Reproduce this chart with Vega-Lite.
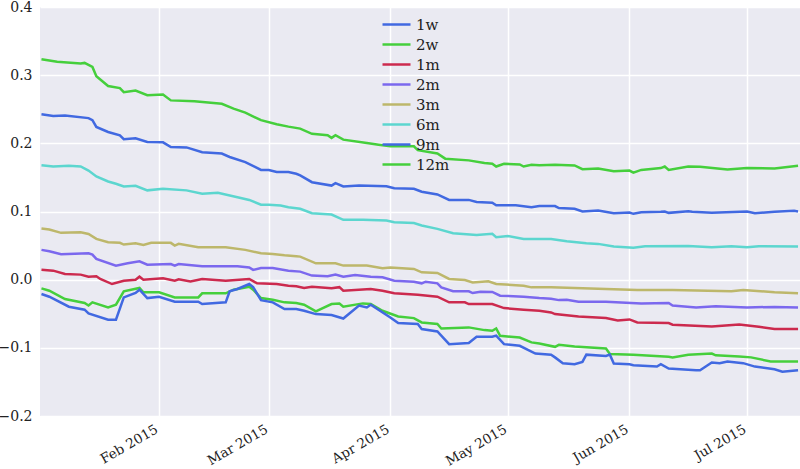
{
  "$schema": "https://vega.github.io/schema/vega-lite/v6.json",
  "width": 760,
  "height": 409,
  "autosize": "none",
  "padding": {"left": 40, "top": 7, "right": 0, "bottom": 53},
  "background": "white",
  "config": {
    "view": {"fill": "#EAEAF2", "stroke": null},
    "font": "DejaVu Serif"
  },
  "data": {"values": [
    {"t":"2015-01-02","s":"12m","v":0.3235},{"t":"2015-01-06","s":"12m","v":0.3196},{"t":"2015-01-12","s":"12m","v":0.317},{"t":"2015-01-13","s":"12m","v":0.318},{"t":"2015-01-15","s":"12m","v":0.312},{"t":"2015-01-16","s":"12m","v":0.2985},{"t":"2015-01-19","s":"12m","v":0.284},{"t":"2015-01-22","s":"12m","v":0.281},{"t":"2015-01-23","s":"12m","v":0.275},{"t":"2015-01-26","s":"12m","v":0.2775},{"t":"2015-01-29","s":"12m","v":0.2706},{"t":"2015-02-02","s":"12m","v":0.2716},{"t":"2015-02-04","s":"12m","v":0.263},{"t":"2015-02-10","s":"12m","v":0.2618},{"t":"2015-02-17","s":"12m","v":0.258},{"t":"2015-02-20","s":"12m","v":0.251},{"t":"2015-02-23","s":"12m","v":0.245},{"t":"2015-02-27","s":"12m","v":0.234},{"t":"2015-03-03","s":"12m","v":0.228},{"t":"2015-03-06","s":"12m","v":0.2245},{"t":"2015-03-09","s":"12m","v":0.2216},{"t":"2015-03-12","s":"12m","v":0.214},{"t":"2015-03-16","s":"12m","v":0.2118},{"t":"2015-03-17","s":"12m","v":0.208},{"t":"2015-03-18","s":"12m","v":0.212},{"t":"2015-03-20","s":"12m","v":0.2054},{"t":"2015-03-26","s":"12m","v":0.2005},{"t":"2015-03-29","s":"12m","v":0.198},{"t":"2015-04-01","s":"12m","v":0.1956},{"t":"2015-04-07","s":"12m","v":0.1956},{"t":"2015-04-08","s":"12m","v":0.19},{"t":"2015-04-13","s":"12m","v":0.185},{"t":"2015-04-15","s":"12m","v":0.1775},{"t":"2015-04-21","s":"12m","v":0.175},{"t":"2015-04-25","s":"12m","v":0.171},{"t":"2015-04-27","s":"12m","v":0.17},{"t":"2015-04-28","s":"12m","v":0.166},{"t":"2015-04-30","s":"12m","v":0.17},{"t":"2015-05-04","s":"12m","v":0.169},{"t":"2015-05-05","s":"12m","v":0.166},{"t":"2015-05-07","s":"12m","v":0.1687},{"t":"2015-05-09","s":"12m","v":0.168},{"t":"2015-05-13","s":"12m","v":0.1687},{"t":"2015-05-18","s":"12m","v":0.1676},{"t":"2015-05-20","s":"12m","v":0.162},{"t":"2015-05-24","s":"12m","v":0.163},{"t":"2015-05-28","s":"12m","v":0.159},{"t":"2015-06-01","s":"12m","v":0.16},{"t":"2015-06-02","s":"12m","v":0.157},{"t":"2015-06-04","s":"12m","v":0.161},{"t":"2015-06-09","s":"12m","v":0.1637},{"t":"2015-06-10","s":"12m","v":0.166},{"t":"2015-06-11","s":"12m","v":0.161},{"t":"2015-06-16","s":"12m","v":0.166},{"t":"2015-06-19","s":"12m","v":0.1657},{"t":"2015-06-26","s":"12m","v":0.1618},{"t":"2015-07-01","s":"12m","v":0.1637},{"t":"2015-07-08","s":"12m","v":0.163},{"t":"2015-07-14","s":"12m","v":0.167},

    {"t":"2015-01-02","s":"9m","v":0.2426},{"t":"2015-01-05","s":"9m","v":0.24},{"t":"2015-01-08","s":"9m","v":0.2407},{"t":"2015-01-14","s":"9m","v":0.237},{"t":"2015-01-15","s":"9m","v":0.234},{"t":"2015-01-16","s":"9m","v":0.224},{"t":"2015-01-19","s":"9m","v":0.2166},{"t":"2015-01-22","s":"9m","v":0.2118},{"t":"2015-01-23","s":"9m","v":0.206},{"t":"2015-01-26","s":"9m","v":0.2074},{"t":"2015-01-29","s":"9m","v":0.202},{"t":"2015-02-02","s":"9m","v":0.2015},{"t":"2015-02-04","s":"9m","v":0.1946},{"t":"2015-02-08","s":"9m","v":0.194},{"t":"2015-02-12","s":"9m","v":0.187},{"t":"2015-02-17","s":"9m","v":0.185},{"t":"2015-02-19","s":"9m","v":0.18},{"t":"2015-02-23","s":"9m","v":0.1725},{"t":"2015-02-27","s":"9m","v":0.161},{"t":"2015-03-01","s":"9m","v":0.161},{"t":"2015-03-03","s":"9m","v":0.158},{"t":"2015-03-06","s":"9m","v":0.158},{"t":"2015-03-08","s":"9m","v":0.1554},{"t":"2015-03-09","s":"9m","v":0.153},{"t":"2015-03-12","s":"9m","v":0.143},{"t":"2015-03-17","s":"9m","v":0.138},{"t":"2015-03-18","s":"9m","v":0.1416},{"t":"2015-03-20","s":"9m","v":0.1368},{"t":"2015-03-24","s":"9m","v":0.138},{"t":"2015-03-31","s":"9m","v":0.137},{"t":"2015-04-02","s":"9m","v":0.134},{"t":"2015-04-07","s":"9m","v":0.1333},{"t":"2015-04-09","s":"9m","v":0.129},{"t":"2015-04-13","s":"9m","v":0.125},{"t":"2015-04-16","s":"9m","v":0.117},{"t":"2015-04-21","s":"9m","v":0.117},{"t":"2015-04-23","s":"9m","v":0.114},{"t":"2015-04-27","s":"9m","v":0.1128},{"t":"2015-04-28","s":"9m","v":0.109},{"t":"2015-05-03","s":"9m","v":0.109},{"t":"2015-05-07","s":"9m","v":0.1063},{"t":"2015-05-09","s":"9m","v":0.108},{"t":"2015-05-13","s":"9m","v":0.108},{"t":"2015-05-14","s":"9m","v":0.105},{"t":"2015-05-18","s":"9m","v":0.104},{"t":"2015-05-20","s":"9m","v":0.1},{"t":"2015-05-24","s":"9m","v":0.1015},{"t":"2015-05-28","s":"9m","v":0.0975},{"t":"2015-06-01","s":"9m","v":0.0985},{"t":"2015-06-02","s":"9m","v":0.0966},{"t":"2015-06-04","s":"9m","v":0.099},{"t":"2015-06-09","s":"9m","v":0.0995},{"t":"2015-06-10","s":"9m","v":0.1},{"t":"2015-06-11","s":"9m","v":0.098},{"t":"2015-06-16","s":"9m","v":0.1005},{"t":"2015-06-17","s":"9m","v":0.0995},{"t":"2015-06-22","s":"9m","v":0.098},{"t":"2015-07-01","s":"9m","v":0.1},{"t":"2015-07-03","s":"9m","v":0.0975},{"t":"2015-07-08","s":"9m","v":0.0995},{"t":"2015-07-13","s":"9m","v":0.101},{"t":"2015-07-14","s":"9m","v":0.1},

    {"t":"2015-01-02","s":"6m","v":0.168},{"t":"2015-01-05","s":"6m","v":0.166},{"t":"2015-01-09","s":"6m","v":0.167},{"t":"2015-01-12","s":"6m","v":0.166},{"t":"2015-01-14","s":"6m","v":0.16},{"t":"2015-01-16","s":"6m","v":0.1515},{"t":"2015-01-19","s":"6m","v":0.144},{"t":"2015-01-21","s":"6m","v":0.1407},{"t":"2015-01-23","s":"6m","v":0.1368},{"t":"2015-01-26","s":"6m","v":0.1378},{"t":"2015-01-29","s":"6m","v":0.131},{"t":"2015-02-02","s":"6m","v":0.1333},{"t":"2015-02-08","s":"6m","v":0.131},{"t":"2015-02-12","s":"6m","v":0.126},{"t":"2015-02-16","s":"6m","v":0.1275},{"t":"2015-02-21","s":"6m","v":0.121},{"t":"2015-02-24","s":"6m","v":0.117},{"t":"2015-02-27","s":"6m","v":0.11},{"t":"2015-03-01","s":"6m","v":0.11},{"t":"2015-03-04","s":"6m","v":0.1088},{"t":"2015-03-06","s":"6m","v":0.1063},{"t":"2015-03-09","s":"6m","v":0.104},{"t":"2015-03-12","s":"6m","v":0.0975},{"t":"2015-03-17","s":"6m","v":0.0956},{"t":"2015-03-20","s":"6m","v":0.0878},{"t":"2015-03-25","s":"6m","v":0.0878},{"t":"2015-03-31","s":"6m","v":0.0868},{"t":"2015-04-02","s":"6m","v":0.0843},{"t":"2015-04-07","s":"6m","v":0.083},{"t":"2015-04-09","s":"6m","v":0.0794},{"t":"2015-04-13","s":"6m","v":0.0745},{"t":"2015-04-17","s":"6m","v":0.068},{"t":"2015-04-23","s":"6m","v":0.0657},{"t":"2015-04-27","s":"6m","v":0.0672},{"t":"2015-04-28","s":"6m","v":0.0622},{"t":"2015-05-01","s":"6m","v":0.064},{"t":"2015-05-05","s":"6m","v":0.0598},{"t":"2015-05-12","s":"6m","v":0.0598},{"t":"2015-05-16","s":"6m","v":0.0564},{"t":"2015-05-21","s":"6m","v":0.0534},{"t":"2015-05-24","s":"6m","v":0.0525},{"t":"2015-05-28","s":"6m","v":0.0485},{"t":"2015-06-02","s":"6m","v":0.047},{"t":"2015-06-05","s":"6m","v":0.049},{"t":"2015-06-16","s":"6m","v":0.0495},{"t":"2015-06-22","s":"6m","v":0.0475},{"t":"2015-06-27","s":"6m","v":0.049},{"t":"2015-07-01","s":"6m","v":0.0475},{"t":"2015-07-04","s":"6m","v":0.049},{"t":"2015-07-14","s":"6m","v":0.0485},

    {"t":"2015-01-02","s":"3m","v":0.075},{"t":"2015-01-04","s":"3m","v":0.0735},{"t":"2015-01-07","s":"3m","v":0.0687},{"t":"2015-01-12","s":"3m","v":0.0696},{"t":"2015-01-14","s":"3m","v":0.067},{"t":"2015-01-16","s":"3m","v":0.0598},{"t":"2015-01-19","s":"3m","v":0.055},{"t":"2015-01-22","s":"3m","v":0.054},{"t":"2015-01-23","s":"3m","v":0.0515},{"t":"2015-01-26","s":"3m","v":0.0534},{"t":"2015-01-28","s":"3m","v":0.051},{"t":"2015-01-30","s":"3m","v":0.054},{"t":"2015-02-04","s":"3m","v":0.054},{"t":"2015-02-05","s":"3m","v":0.05},{"t":"2015-02-06","s":"3m","v":0.0525},{"t":"2015-02-11","s":"3m","v":0.0475},{"t":"2015-02-18","s":"3m","v":0.0475},{"t":"2015-02-23","s":"3m","v":0.0437},{"t":"2015-02-27","s":"3m","v":0.0387},{"t":"2015-03-02","s":"3m","v":0.0378},{"t":"2015-03-05","s":"3m","v":0.0357},{"t":"2015-03-08","s":"3m","v":0.0343},{"t":"2015-03-09","s":"3m","v":0.0338},{"t":"2015-03-13","s":"3m","v":0.024},{"t":"2015-03-18","s":"3m","v":0.024},{"t":"2015-03-20","s":"3m","v":0.0206},{"t":"2015-03-26","s":"3m","v":0.0206},{"t":"2015-03-30","s":"3m","v":0.0167},{"t":"2015-04-01","s":"3m","v":0.018},{"t":"2015-04-07","s":"3m","v":0.0157},{"t":"2015-04-09","s":"3m","v":0.0108},{"t":"2015-04-13","s":"3m","v":0.0098},{"t":"2015-04-16","s":"3m","v":0.001},{"t":"2015-04-20","s":"3m","v":-0.0005},{"t":"2015-04-22","s":"3m","v":-0.004},{"t":"2015-04-26","s":"3m","v":-0.0025},{"t":"2015-04-28","s":"3m","v":-0.0064},{"t":"2015-05-05","s":"3m","v":-0.0088},{"t":"2015-05-07","s":"3m","v":-0.0113},{"t":"2015-05-12","s":"3m","v":-0.0113},{"t":"2015-05-18","s":"3m","v":-0.0122},{"t":"2015-05-26","s":"3m","v":-0.0137},{"t":"2015-06-03","s":"3m","v":-0.015},{"t":"2015-06-12","s":"3m","v":-0.015},{"t":"2015-06-27","s":"3m","v":-0.017},{"t":"2015-06-30","s":"3m","v":-0.015},{"t":"2015-07-08","s":"3m","v":-0.0186},{"t":"2015-07-14","s":"3m","v":-0.02},

    {"t":"2015-01-02","s":"2m","v":0.0437},{"t":"2015-01-04","s":"2m","v":0.0417},{"t":"2015-01-07","s":"2m","v":0.0373},{"t":"2015-01-14","s":"2m","v":0.0387},{"t":"2015-01-15","s":"2m","v":0.0368},{"t":"2015-01-16","s":"2m","v":0.0304},{"t":"2015-01-21","s":"2m","v":0.0206},{"t":"2015-01-24","s":"2m","v":0.024},{"t":"2015-01-27","s":"2m","v":0.027},{"t":"2015-01-29","s":"2m","v":0.022},{"t":"2015-02-04","s":"2m","v":0.023},{"t":"2015-02-05","s":"2m","v":0.0206},{"t":"2015-02-06","s":"2m","v":0.023},{"t":"2015-02-12","s":"2m","v":0.0196},{"t":"2015-02-21","s":"2m","v":0.0196},{"t":"2015-02-24","s":"2m","v":0.018},{"t":"2015-02-25","s":"2m","v":0.0143},{"t":"2015-02-27","s":"2m","v":0.0172},{"t":"2015-03-02","s":"2m","v":0.0172},{"t":"2015-03-06","s":"2m","v":0.0132},{"t":"2015-03-09","s":"2m","v":0.0118},{"t":"2015-03-12","s":"2m","v":0.006},{"t":"2015-03-16","s":"2m","v":0.0049},{"t":"2015-03-18","s":"2m","v":0.0074},{"t":"2015-03-20","s":"2m","v":0.0044},{"t":"2015-03-23","s":"2m","v":0.0069},{"t":"2015-03-27","s":"2m","v":0.0044},{"t":"2015-03-30","s":"2m","v":0.0034},{"t":"2015-04-02","s":"2m","v":-0.0015},{"t":"2015-04-07","s":"2m","v":-0.003},{"t":"2015-04-09","s":"2m","v":-0.0054},{"t":"2015-04-10","s":"2m","v":-0.003},{"t":"2015-04-13","s":"2m","v":-0.0054},{"t":"2015-04-14","s":"2m","v":-0.0113},{"t":"2015-04-17","s":"2m","v":-0.017},{"t":"2015-04-21","s":"2m","v":-0.017},{"t":"2015-04-22","s":"2m","v":-0.0196},{"t":"2015-04-24","s":"2m","v":-0.0176},{"t":"2015-04-27","s":"2m","v":-0.018},{"t":"2015-04-29","s":"2m","v":-0.0235},{"t":"2015-05-05","s":"2m","v":-0.025},{"t":"2015-05-09","s":"2m","v":-0.027},{"t":"2015-05-12","s":"2m","v":-0.028},{"t":"2015-05-14","s":"2m","v":-0.03},{"t":"2015-05-16","s":"2m","v":-0.0295},{"t":"2015-05-19","s":"2m","v":-0.0324},{"t":"2015-05-26","s":"2m","v":-0.0324},{"t":"2015-06-04","s":"2m","v":-0.0348},{"t":"2015-06-11","s":"2m","v":-0.0343},{"t":"2015-06-12","s":"2m","v":-0.038},{"t":"2015-06-18","s":"2m","v":-0.0407},{"t":"2015-06-23","s":"2m","v":-0.039},{"t":"2015-07-01","s":"2m","v":-0.0407},{"t":"2015-07-08","s":"2m","v":-0.04},{"t":"2015-07-14","s":"2m","v":-0.0407},

    {"t":"2015-01-02","s":"1m","v":0.0147},{"t":"2015-01-05","s":"1m","v":0.0132},{"t":"2015-01-08","s":"1m","v":0.0083},{"t":"2015-01-12","s":"1m","v":0.0074},{"t":"2015-01-14","s":"1m","v":0.0044},{"t":"2015-01-16","s":"1m","v":0.005},{"t":"2015-01-17","s":"1m","v":0.001},{"t":"2015-01-20","s":"1m","v":-0.0064},{"t":"2015-01-23","s":"1m","v":-0.0015},{"t":"2015-01-26","s":"1m","v":0.0},{"t":"2015-01-27","s":"1m","v":0.0044},{"t":"2015-01-28","s":"1m","v":0.0},{"t":"2015-02-02","s":"1m","v":0.002},{"t":"2015-02-05","s":"1m","v":-0.0015},{"t":"2015-02-06","s":"1m","v":0.0005},{"t":"2015-02-09","s":"1m","v":-0.0025},{"t":"2015-02-12","s":"1m","v":0.001},{"t":"2015-02-18","s":"1m","v":-0.0015},{"t":"2015-02-24","s":"1m","v":0.001},{"t":"2015-02-26","s":"1m","v":-0.0054},{"t":"2015-03-03","s":"1m","v":-0.0064},{"t":"2015-03-06","s":"1m","v":-0.0088},{"t":"2015-03-08","s":"1m","v":-0.0098},{"t":"2015-03-10","s":"1m","v":-0.0122},{"t":"2015-03-12","s":"1m","v":-0.0103},{"t":"2015-03-17","s":"1m","v":-0.0127},{"t":"2015-03-19","s":"1m","v":-0.011},{"t":"2015-03-20","s":"1m","v":-0.0162},{"t":"2015-03-27","s":"1m","v":-0.0137},{"t":"2015-03-30","s":"1m","v":-0.0162},{"t":"2015-04-02","s":"1m","v":-0.02},{"t":"2015-04-08","s":"1m","v":-0.022},{"t":"2015-04-13","s":"1m","v":-0.025},{"t":"2015-04-16","s":"1m","v":-0.0333},{"t":"2015-04-20","s":"1m","v":-0.0333},{"t":"2015-04-21","s":"1m","v":-0.0358},{"t":"2015-04-27","s":"1m","v":-0.0358},{"t":"2015-04-30","s":"1m","v":-0.0417},{"t":"2015-05-05","s":"1m","v":-0.044},{"t":"2015-05-09","s":"1m","v":-0.0456},{"t":"2015-05-12","s":"1m","v":-0.048},{"t":"2015-05-13","s":"1m","v":-0.0505},{"t":"2015-05-19","s":"1m","v":-0.054},{"t":"2015-05-26","s":"1m","v":-0.0564},{"t":"2015-05-29","s":"1m","v":-0.06},{"t":"2015-06-01","s":"1m","v":-0.0583},{"t":"2015-06-03","s":"1m","v":-0.0627},{"t":"2015-06-11","s":"1m","v":-0.0637},{"t":"2015-06-12","s":"1m","v":-0.066},{"t":"2015-06-22","s":"1m","v":-0.0686},{"t":"2015-06-29","s":"1m","v":-0.0657},{"t":"2015-07-04","s":"1m","v":-0.069},{"t":"2015-07-08","s":"1m","v":-0.0725},{"t":"2015-07-14","s":"1m","v":-0.0725},

    {"t":"2015-01-02","s":"2w","v":-0.0127},{"t":"2015-01-04","s":"2w","v":-0.0162},{"t":"2015-01-08","s":"2w","v":-0.0284},{"t":"2015-01-13","s":"2w","v":-0.0343},{"t":"2015-01-14","s":"2w","v":-0.038},{"t":"2015-01-15","s":"2w","v":-0.0333},{"t":"2015-01-19","s":"2w","v":-0.0407},{"t":"2015-01-21","s":"2w","v":-0.0368},{"t":"2015-01-23","s":"2w","v":-0.017},{"t":"2015-01-27","s":"2w","v":-0.0122},{"t":"2015-01-28","s":"2w","v":-0.0186},{"t":"2015-02-01","s":"2w","v":-0.0186},{"t":"2015-02-05","s":"2w","v":-0.026},{"t":"2015-02-11","s":"2w","v":-0.026},{"t":"2015-02-12","s":"2w","v":-0.02},{"t":"2015-02-18","s":"2w","v":-0.02},{"t":"2015-02-20","s":"2w","v":-0.0147},{"t":"2015-02-24","s":"2w","v":-0.0103},{"t":"2015-02-25","s":"2w","v":-0.0147},{"t":"2015-02-27","s":"2w","v":-0.027},{"t":"2015-03-02","s":"2w","v":-0.0294},{"t":"2015-03-05","s":"2w","v":-0.0333},{"t":"2015-03-08","s":"2w","v":-0.0343},{"t":"2015-03-10","s":"2w","v":-0.0368},{"t":"2015-03-13","s":"2w","v":-0.0466},{"t":"2015-03-17","s":"2w","v":-0.0358},{"t":"2015-03-19","s":"2w","v":-0.035},{"t":"2015-03-20","s":"2w","v":-0.0397},{"t":"2015-03-25","s":"2w","v":-0.0348},{"t":"2015-03-27","s":"2w","v":-0.0358},{"t":"2015-03-30","s":"2w","v":-0.0456},{"t":"2015-04-03","s":"2w","v":-0.054},{"t":"2015-04-07","s":"2w","v":-0.0564},{"t":"2015-04-09","s":"2w","v":-0.0627},{"t":"2015-04-13","s":"2w","v":-0.065},{"t":"2015-04-14","s":"2w","v":-0.0716},{"t":"2015-04-21","s":"2w","v":-0.07},{"t":"2015-04-25","s":"2w","v":-0.074},{"t":"2015-04-27","s":"2w","v":-0.075},{"t":"2015-04-28","s":"2w","v":-0.0716},{"t":"2015-04-29","s":"2w","v":-0.0824},{"t":"2015-05-04","s":"2w","v":-0.0848},{"t":"2015-05-07","s":"2w","v":-0.092},{"t":"2015-05-09","s":"2w","v":-0.0936},{"t":"2015-05-13","s":"2w","v":-0.0985},{"t":"2015-05-14","s":"2w","v":-0.0956},{"t":"2015-05-18","s":"2w","v":-0.098},{"t":"2015-05-26","s":"2w","v":-0.101},{"t":"2015-05-27","s":"2w","v":-0.109},{"t":"2015-06-02","s":"2w","v":-0.11},{"t":"2015-06-11","s":"2w","v":-0.113},{"t":"2015-06-12","s":"2w","v":-0.114},{"t":"2015-06-16","s":"2w","v":-0.11},{"t":"2015-06-22","s":"2w","v":-0.1084},{"t":"2015-06-23","s":"2w","v":-0.111},{"t":"2015-06-29","s":"2w","v":-0.1128},{"t":"2015-07-02","s":"2w","v":-0.114},{"t":"2015-07-07","s":"2w","v":-0.12},{"t":"2015-07-14","s":"2w","v":-0.12},

    {"t":"2015-01-02","s":"1w","v":-0.021},{"t":"2015-01-04","s":"1w","v":-0.025},{"t":"2015-01-09","s":"1w","v":-0.0397},{"t":"2015-01-13","s":"1w","v":-0.044},{"t":"2015-01-14","s":"1w","v":-0.0495},{"t":"2015-01-19","s":"1w","v":-0.0588},{"t":"2015-01-21","s":"1w","v":-0.0588},{"t":"2015-01-23","s":"1w","v":-0.026},{"t":"2015-01-26","s":"1w","v":-0.0196},{"t":"2015-01-27","s":"1w","v":-0.0147},{"t":"2015-01-29","s":"1w","v":-0.027},{"t":"2015-02-01","s":"1w","v":-0.025},{"t":"2015-02-05","s":"1w","v":-0.0324},{"t":"2015-02-11","s":"1w","v":-0.0324},{"t":"2015-02-12","s":"1w","v":-0.0358},{"t":"2015-02-18","s":"1w","v":-0.0333},{"t":"2015-02-19","s":"1w","v":-0.017},{"t":"2015-02-21","s":"1w","v":-0.0137},{"t":"2015-02-24","s":"1w","v":-0.0064},{"t":"2015-02-25","s":"1w","v":-0.011},{"t":"2015-02-27","s":"1w","v":-0.03},{"t":"2015-03-02","s":"1w","v":-0.0333},{"t":"2015-03-05","s":"1w","v":-0.043},{"t":"2015-03-08","s":"1w","v":-0.043},{"t":"2015-03-10","s":"1w","v":-0.0456},{"t":"2015-03-13","s":"1w","v":-0.0505},{"t":"2015-03-17","s":"1w","v":-0.052},{"t":"2015-03-20","s":"1w","v":-0.057},{"t":"2015-03-24","s":"1w","v":-0.038},{"t":"2015-03-26","s":"1w","v":-0.0407},{"t":"2015-03-27","s":"1w","v":-0.0368},{"t":"2015-04-01","s":"1w","v":-0.0554},{"t":"2015-04-03","s":"1w","v":-0.0637},{"t":"2015-04-08","s":"1w","v":-0.065},{"t":"2015-04-09","s":"1w","v":-0.0725},{"t":"2015-04-13","s":"1w","v":-0.076},{"t":"2015-04-16","s":"1w","v":-0.0946},{"t":"2015-04-21","s":"1w","v":-0.093},{"t":"2015-04-23","s":"1w","v":-0.0838},{"t":"2015-04-27","s":"1w","v":-0.0838},{"t":"2015-04-28","s":"1w","v":-0.082},{"t":"2015-04-30","s":"1w","v":-0.0946},{"t":"2015-05-04","s":"1w","v":-0.097},{"t":"2015-05-08","s":"1w","v":-0.1084},{"t":"2015-05-12","s":"1w","v":-0.11},{"t":"2015-05-13","s":"1w","v":-0.114},{"t":"2015-05-15","s":"1w","v":-0.1225},{"t":"2015-05-18","s":"1w","v":-0.124},{"t":"2015-05-20","s":"1w","v":-0.1206},{"t":"2015-05-21","s":"1w","v":-0.11},{"t":"2015-05-26","s":"1w","v":-0.112},{"t":"2015-05-27","s":"1w","v":-0.11},{"t":"2015-05-28","s":"1w","v":-0.123},{"t":"2015-06-01","s":"1w","v":-0.124},{"t":"2015-06-02","s":"1w","v":-0.1255},{"t":"2015-06-08","s":"1w","v":-0.1275},{"t":"2015-06-09","s":"1w","v":-0.124},{"t":"2015-06-11","s":"1w","v":-0.1304},{"t":"2015-06-18","s":"1w","v":-0.1328},{"t":"2015-06-19","s":"1w","v":-0.1328},{"t":"2015-06-22","s":"1w","v":-0.1216},{"t":"2015-06-24","s":"1w","v":-0.1225},{"t":"2015-06-26","s":"1w","v":-0.12},{"t":"2015-06-30","s":"1w","v":-0.1225},{"t":"2015-07-03","s":"1w","v":-0.1275},{"t":"2015-07-08","s":"1w","v":-0.1314},{"t":"2015-07-10","s":"1w","v":-0.135},{"t":"2015-07-14","s":"1w","v":-0.1328}
  ]},
  "mark": {"type": "line", "strokeWidth": 2.5, "clip": true},
  "encoding": {
    "x": {
      "field": "t", "type": "temporal",
      "scale": {"type": "utc", "domain": [{"year": 2015, "month": 1, "date": 1, "hours": 15, "utc": true}, {"year": 2015, "month": 7, "date": 14, "hours": 12, "utc": true}]},
      "axis": {
        "title": null, "format": "%b %Y", "tickCount": {"interval": "month", "step": 1},
        "domain": false, "ticks": false, "grid": true, "gridColor": "white", "gridWidth": 1.5,
        "labelFont": "DejaVu Serif", "labelFontSize": 13.5, "labelColor": "#222222",
        "labelAngle": -30, "labelAlign": "right", "labelBaseline": "top", "labelPadding": 6, "labelOffset": -6
      }
    },
    "y": {
      "field": "v", "type": "quantitative",
      "scale": {"domain": [-0.2, 0.4], "nice": false, "zero": false},
      "axis": {
        "title": null, "format": ".1f", "values": [-0.2, -0.1, 0.0, 0.1, 0.2, 0.3, 0.4],
        "domain": false, "ticks": false, "grid": true, "gridColor": "white", "gridWidth": 1.5,
        "labelFont": "DejaVu Serif", "labelFontSize": 14, "labelColor": "#222222", "labelPadding": 8
      }
    },
    "color": {
      "field": "s", "type": "nominal",
      "scale": {
        "domain": ["1w", "2w", "1m", "2m", "3m", "6m", "9m", "12m"],
        "range": ["#4169E1", "#45CF3C", "#CC2A4E", "#7B68EE", "#BDB76B", "#5CD6CF", "#4169E1", "#45CF3C"]
      },
      "legend": {
        "title": null, "orient": "none", "legendX": 345, "legendY": 6,
        "symbolType": "M-1.4,0H1.4", "symbolSize": 400, "symbolStrokeWidth": 2.5,
        "labelFont": "DejaVu Serif", "labelFontSize": 15, "labelColor": "#222222",
        "labelOffset": 8, "rowPadding": 0
      }
    }
  }
}
